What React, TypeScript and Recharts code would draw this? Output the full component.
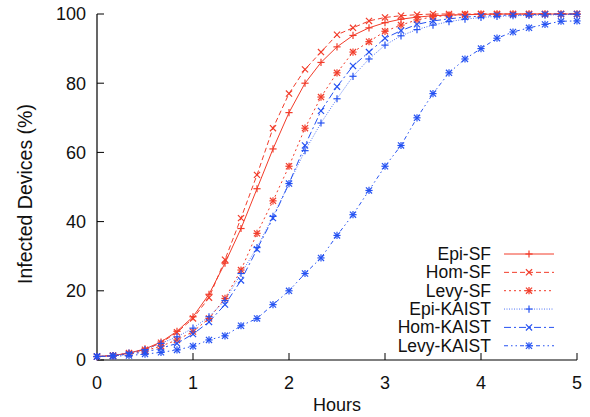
import React from 'react';
import { LineChart, Line, XAxis, YAxis, Legend } from 'recharts';

const hours = [0, 0.1667, 0.3333, 0.5, 0.6667, 0.8333, 1, 1.1667, 1.3333, 1.5, 1.6667, 1.8333, 2, 2.1667, 2.3333, 2.5, 2.6667, 2.8333, 3, 3.1667, 3.3333, 3.5, 3.6667, 3.8333, 4, 4.1667, 4.3333, 4.5, 4.6667, 4.8333, 5];

const epiSF = [1, 1.3, 2, 3.2, 5.2, 8.3, 12.5, 19, 28, 38, 49.5, 61, 71.5, 80, 86, 90.5, 93.8, 96, 97.5, 98.5, 99.1, 99.5, 99.7, 99.8, 99.9, 100, 100, 100, 100, 100, 100];
const homSF = [1, 1.3, 2, 3, 5, 8, 12, 18, 29, 41, 53.5, 67, 77, 84, 89, 94, 96, 98, 99, 99.5, 99.8, 100, 100, 100, 100, 100, 100, 100, 100, 100, 100];
const levySF = [1, 1.2, 1.8, 2.7, 4, 5.8, 8.2, 12, 17.8, 26, 36.6, 46, 56, 67, 76, 83, 89, 92, 95, 96.8, 98.3, 99.2, 99.6, 99.8, 100, 100, 100, 100, 100, 100, 100];
const epiKAIST = [1, 1.3, 2, 3, 4.8, 6.7, 9.2, 12.5, 17.2, 25, 32.5, 41.5, 51, 60.5, 68.5, 75.5, 82, 87, 91, 93.7, 95.5, 96.8, 97.8, 98.5, 99, 99.3, 99.5, 99.6, 99.7, 99.8, 99.9];
const homKAIST = [1, 1.2, 1.7, 2.3, 3.4, 4.8, 7.5, 11, 16, 23, 32, 41, 51, 62, 72, 79, 85, 89, 93, 95.2, 97, 98, 98.6, 99.1, 99.4, 99.6, 99.7, 99.8, 99.9, 100, 100];
const levyKAIST = [1, 1.1, 1.3, 1.7, 2.2, 2.9, 4, 5.8, 7, 9.9, 12, 16, 20, 25, 29.5, 36, 42, 49, 56, 62, 70, 77, 83, 87, 90, 93, 94.8, 96, 97, 97.9, 98];

const xTicks = [0, 1, 2, 3, 4, 5];
const yTicks = [0, 20, 40, 60, 80, 100];

const RED = '#f23c2a';
const BLUE = '#2552f2';
const FONT = '"Liberation Sans", Arial, Helvetica, sans-serif';

type Kind = 'plus' | 'cross' | 'star';

const series: { key: string; name: string; color: string; dash?: string; kind: Kind; width: number }[] = [
  { key: 'epiSF', name: 'Epi-SF', color: RED, dash: undefined, kind: 'plus', width: 1 },
  { key: 'homSF', name: 'Hom-SF', color: RED, dash: '5 3', kind: 'cross', width: 1 },
  { key: 'levySF', name: 'Levy-SF', color: RED, dash: '2 3', kind: 'star', width: 1 },
  { key: 'epiKAIST', name: 'Epi-KAIST', color: BLUE, dash: '1 1.5', kind: 'plus', width: 0.8 },
  { key: 'homKAIST', name: 'Hom-KAIST', color: BLUE, dash: '7 3 2 3', kind: 'cross', width: 1 },
  { key: 'levyKAIST', name: 'Levy-KAIST', color: BLUE, dash: '4 3 1.5 3 1.5 3', kind: 'star', width: 1 },
];

const data = hours.map((h, i) => ({
  hour: h,
  epiSF: epiSF[i],
  homSF: homSF[i],
  levySF: levySF[i],
  epiKAIST: epiKAIST[i],
  homKAIST: homKAIST[i],
  levyKAIST: levyKAIST[i],
}));

function Marker({ cx, cy, color, kind }: { cx: number; cy: number; color: string; kind: Kind }) {
  const s = 3.6;
  const plus = (
    <>
      <line x1={cx - s} y1={cy} x2={cx + s} y2={cy} />
      <line x1={cx} y1={cy - s} x2={cx} y2={cy + s} />
    </>
  );
  const c = s * 0.85;
  const cross = (
    <>
      <line x1={cx - c} y1={cy - c} x2={cx + c} y2={cy + c} />
      <line x1={cx - c} y1={cy + c} x2={cx + c} y2={cy - c} />
    </>
  );
  return (
    <g stroke={color} strokeWidth={1.2} fill="none">
      {kind === 'plus' ? plus : kind === 'cross' ? cross : (<>{plus}{cross}</>)}
    </g>
  );
}

function LegendBox() {
  return (
    <svg width={175} height={115} style={{ overflow: 'visible' }}>
      {series.map((s, i) => {
        const y = 10 + i * 18.35;
        return (
          <g key={s.key}>
            <text x={91} y={y} textAnchor="end" dominantBaseline="central" fontFamily={FONT} fontSize={17.5} fill="#111">
              {s.name}
            </text>
            <line x1={104} y1={y} x2={154} y2={y} stroke={s.color} strokeWidth={s.width} strokeDasharray={s.dash} />
            <Marker cx={129} cy={y} color={s.color} kind={s.kind} />
          </g>
        );
      })}
    </svg>
  );
}

export default function App() {
  return (
    <div style={{ position: 'absolute', left: 0, top: 0, width: 590, height: 417, background: '#fff' }}>
      <LineChart width={590} height={417} data={data} margin={{ top: 14, right: 13, bottom: 0, left: 0 }} style={{ fontFamily: FONT }}>
        <XAxis
          dataKey="hour"
          type="number"
          domain={[0, 5]}
          ticks={xTicks}
          height={57}
          tickSize={-7}
          tickMargin={23}
          stroke="#000"
          tick={{ fill: '#111', fontSize: 18, fontFamily: FONT }}
          axisLine={{ stroke: '#000', strokeWidth: 1.2 }}
          tickLine={{ stroke: '#000' }}
          label={{
            position: 'center',
            content: (p: any) => {
              const vb = p.viewBox || {};
              return (
                <text x={vb.x + vb.width / 2} y={vb.y + 51} textAnchor="middle" fontFamily={FONT} fontSize={18} fill="#111">
                  Hours
                </text>
              );
            },
          }}
        />
        <XAxis
          xAxisId="top"
          orientation="top"
          dataKey="hour"
          type="number"
          domain={[0, 5]}
          ticks={xTicks}
          height={0}
          tickSize={-7}
          tick={false}
          axisLine={{ stroke: '#000', strokeWidth: 1.2 }}
          tickLine={{ stroke: '#000' }}
        />
        <YAxis
          type="number"
          domain={[0, 100]}
          ticks={yTicks}
          width={97}
          tickSize={-7}
          tickMargin={18}
          tick={{ fill: '#111', fontSize: 18, fontFamily: FONT }}
          axisLine={{ stroke: '#000', strokeWidth: 1.2 }}
          tickLine={{ stroke: '#000' }}
          label={{
            position: 'center',
            content: (p: any) => {
              const vb = p.viewBox || {};
              const cy = vb.y + vb.height / 2 + 7;
              return (
                <text x={25} y={cy} transform={`rotate(-90 25 ${cy})`} textAnchor="middle" dominantBaseline="central" fontFamily={FONT} fontSize={19.5} fill="#111">
                  Infected Devices (%)
                </text>
              );
            },
          }}
        />
        <YAxis
          yAxisId="right"
          orientation="right"
          type="number"
          domain={[0, 100]}
          ticks={yTicks}
          width={0}
          tickSize={-7}
          tick={false}
          axisLine={{ stroke: '#000', strokeWidth: 1.2 }}
          tickLine={{ stroke: '#000' }}
        />
        <Legend
          layout="vertical"
          align="center"
          verticalAlign="middle"
          wrapperStyle={{ left: 400, top: 244, width: 175, height: 115 }}
          content={() => <LegendBox />}
        />
        {series.map((s) => (
          <Line
            key={s.key}
            dataKey={s.key}
            name={s.name}
            type="linear"
            stroke={s.color}
            strokeWidth={s.width}
            strokeDasharray={s.dash}
            isAnimationActive={false}
            dot={(p: any) => <Marker key={`${s.key}-${p.index}`} cx={p.cx} cy={p.cy} color={s.color} kind={s.kind} />}
            activeDot={false}
          />
        ))}
      </LineChart>
    </div>
  );
}
